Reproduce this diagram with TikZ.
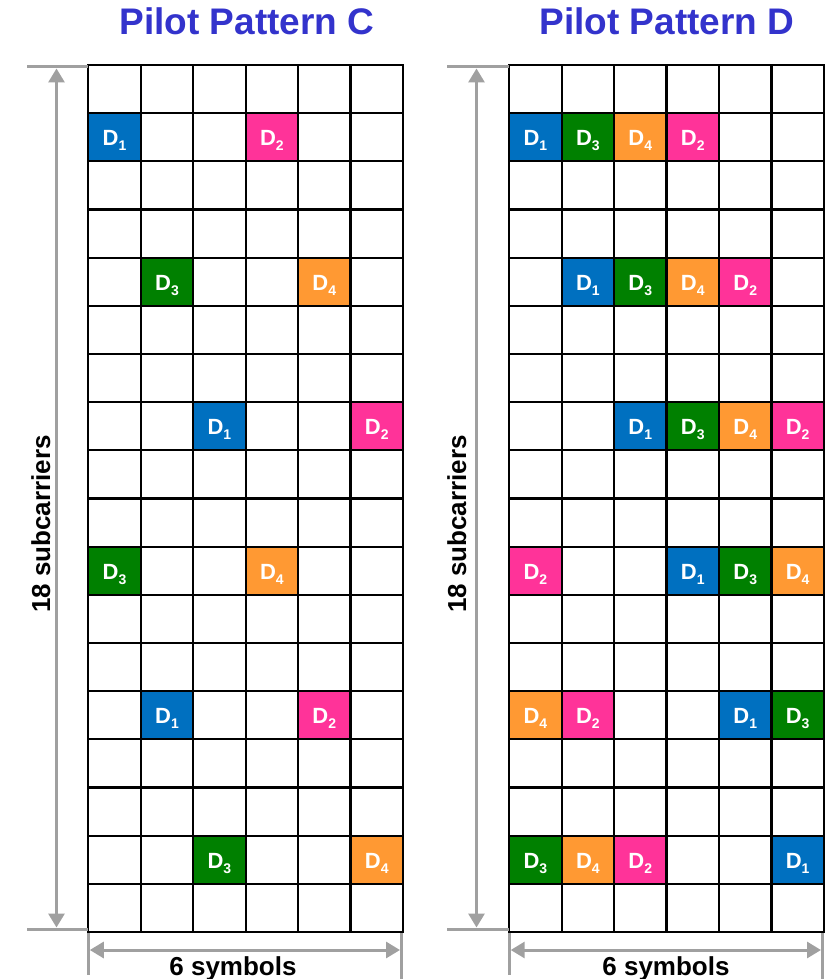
\documentclass[tikz,border=0pt]{standalone}
\usepackage{fontspec}
\setmainfont{Liberation Sans}
\usetikzlibrary{arrows.meta}
\definecolor{pblue}{RGB}{0,112,192}
\definecolor{ppink}{RGB}{255,51,153}
\definecolor{pgreen}{RGB}{0,128,0}
\definecolor{porange}{RGB}{255,153,51}
\definecolor{ttlblue}{RGB}{51,51,204}
\definecolor{dimgray}{RGB}{160,160,160}
\def\cw{52.45}
\def\ch{48.1667}
\def\gy{65}
\def\gyb{932}
\newcommand\pilotcell[6]{%
  \fill[#5] ({#2+#3*\cw},{\gy+#4*\ch}) rectangle ({#2+(#3+1)*\cw},{\gy+(#4+1)*\ch});
  \node[pilotlbl] (#1) at ({#2+(#3+0.5)*\cw},{\gy+(#4+0.5)*\ch+8.5}) {D\raisebox{-5pt}{\fontsize{14}{14}\selectfont #6}};
}
\newcommand\pilotgrid[1]{%
  \foreach \i in {0,...,6} \draw[gridline] ({#1+\i*\cw},\gy) -- ({#1+\i*\cw},\gyb);
  \foreach \j in {0,...,18} \draw[gridline] (#1,{\gy+\j*\ch}) -- ({#1+6*\cw},{\gy+\j*\ch});
}
\tikzset{
  pilotlbl/.style={text=white, font=\fontsize{22}{22}\selectfont\bfseries, anchor=base, inner sep=0pt},
  gridline/.style={line width=2.3pt, black, line cap=rect},
  dimline/.style={line width=3pt, dimgray},
  dimarrow/.style={line width=3pt, dimgray, {Triangle[length=14pt,width=16pt]}-{Triangle[length=14pt,width=16pt]}},
  titletext/.style={text=ttlblue, font=\fontsize{37}{37}\selectfont\bfseries, anchor=base, inner sep=0pt},
  dimtext/.style={text=black, font=\fontsize{26}{26}\selectfont\bfseries, anchor=base, inner sep=0pt},
}
\begin{document}
\begin{tikzpicture}[x=1pt,y=-1pt]
\useasboundingbox (0,0) rectangle (827,979);

% titles
\node[titletext] (titleC) at (247,35) {Pilot Pattern C};
\node[titletext] (titleD) at (667,35) {Pilot Pattern D};

% ---------- Pattern C ----------
\def\xc{88.3}
\pilotcell{c11}{\xc}{0}{1}{pblue}{1}
\pilotcell{c12}{\xc}{3}{1}{ppink}{2}
\pilotcell{c43}{\xc}{1}{4}{pgreen}{3}
\pilotcell{c44}{\xc}{4}{4}{porange}{4}
\pilotcell{c71}{\xc}{2}{7}{pblue}{1}
\pilotcell{c72}{\xc}{5}{7}{ppink}{2}
\pilotcell{c103}{\xc}{0}{10}{pgreen}{3}
\pilotcell{c104}{\xc}{3}{10}{porange}{4}
\pilotcell{c131}{\xc}{1}{13}{pblue}{1}
\pilotcell{c132}{\xc}{4}{13}{ppink}{2}
\pilotcell{c163}{\xc}{2}{16}{pgreen}{3}
\pilotcell{c164}{\xc}{5}{16}{porange}{4}
\pilotgrid{\xc}

% ---------- Pattern D ----------
\def\xd{509.2}
\pilotcell{d11}{\xd}{0}{1}{pblue}{1}
\pilotcell{d13}{\xd}{1}{1}{pgreen}{3}
\pilotcell{d14}{\xd}{2}{1}{porange}{4}
\pilotcell{d12}{\xd}{3}{1}{ppink}{2}
\pilotcell{d41}{\xd}{1}{4}{pblue}{1}
\pilotcell{d43}{\xd}{2}{4}{pgreen}{3}
\pilotcell{d44}{\xd}{3}{4}{porange}{4}
\pilotcell{d42}{\xd}{4}{4}{ppink}{2}
\pilotcell{d71}{\xd}{2}{7}{pblue}{1}
\pilotcell{d73}{\xd}{3}{7}{pgreen}{3}
\pilotcell{d74}{\xd}{4}{7}{porange}{4}
\pilotcell{d72}{\xd}{5}{7}{ppink}{2}
\pilotcell{d102}{\xd}{0}{10}{ppink}{2}
\pilotcell{d101}{\xd}{3}{10}{pblue}{1}
\pilotcell{d103}{\xd}{4}{10}{pgreen}{3}
\pilotcell{d104}{\xd}{5}{10}{porange}{4}
\pilotcell{d134}{\xd}{0}{13}{porange}{4}
\pilotcell{d132}{\xd}{1}{13}{ppink}{2}
\pilotcell{d131}{\xd}{4}{13}{pblue}{1}
\pilotcell{d133}{\xd}{5}{13}{pgreen}{3}
\pilotcell{d163}{\xd}{0}{16}{pgreen}{3}
\pilotcell{d164}{\xd}{1}{16}{porange}{4}
\pilotcell{d162}{\xd}{2}{16}{ppink}{2}
\pilotcell{d161}{\xd}{5}{16}{pblue}{1}
\pilotgrid{\xd}

% ---------- dimension lines C ----------
\coordinate (cTopL) at (27,67);
\coordinate (cTopR) at (88.3,67);
\coordinate (cBotL) at (27,929);
\coordinate (cBotR) at (88.3,929);
\coordinate (cArrT) at (56.5,68.5);
\coordinate (cArrB) at (56.5,927.5);
\draw[dimline] (cTopL) -- (cTopR);
\draw[dimline] (cBotL) -- (cBotR);
\draw[dimarrow] (cArrT) -- (cArrB);
\node[dimtext, rotate=90] (subC) at (50,524) {18 subcarriers};

\coordinate (cLT) at (88.3,933);
\coordinate (cLB) at (88.3,975);
\coordinate (cRT) at (401.5,933);
\coordinate (cRB) at (401.5,979);
\coordinate (cArrL) at (89.8,950);
\coordinate (cArrR) at (400,950);
\draw[dimline] (cLT) -- (cLB);
\draw[dimline] (cRT) -- (cRB);
\draw[dimarrow] (cArrL) -- (cArrR);
\node[dimtext] (symC) at (233,975) {6 symbols};

% ---------- dimension lines D ----------
\coordinate (dTopL) at (447,67);
\coordinate (dTopR) at (509.2,67);
\coordinate (dBotL) at (447,929);
\coordinate (dBotR) at (509.2,929);
\coordinate (dArrT) at (476.5,68.5);
\coordinate (dArrB) at (476.5,927.5);
\draw[dimline] (dTopL) -- (dTopR);
\draw[dimline] (dBotL) -- (dBotR);
\draw[dimarrow] (dArrT) -- (dArrB);
\node[dimtext, rotate=90] (subD) at (466,524) {18 subcarriers};

\coordinate (dLT) at (509.2,933);
\coordinate (dLB) at (509.2,975);
\coordinate (dRT) at (822.5,933);
\coordinate (dRB) at (822.5,979);
\coordinate (dArrL) at (510.7,950);
\coordinate (dArrR) at (821,950);
\draw[dimline] (dLT) -- (dLB);
\draw[dimline] (dRT) -- (dRB);
\draw[dimarrow] (dArrL) -- (dArrR);
\node[dimtext] (symD) at (666,975) {6 symbols};
\end{tikzpicture}
\end{document}
